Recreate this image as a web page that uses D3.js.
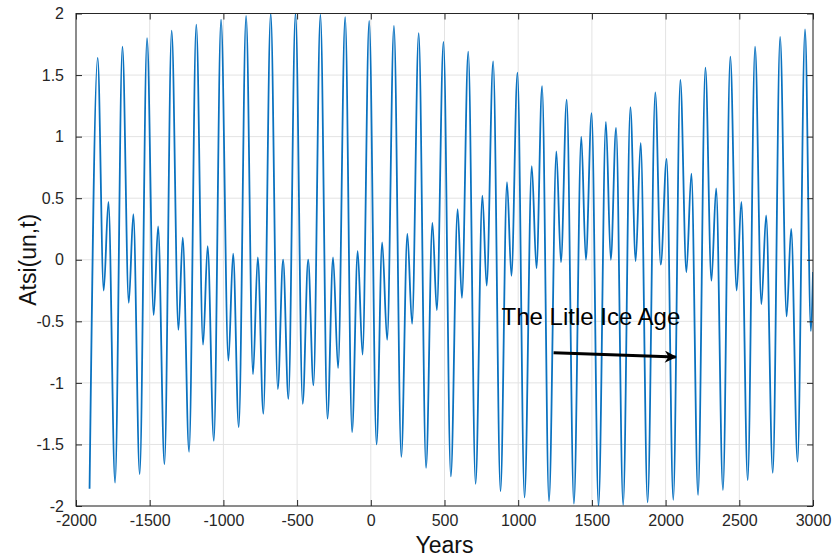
<!DOCTYPE html>
<html>
<head>
<meta charset="utf-8">
<script src="https://cdn.jsdelivr.net/npm/d3@7"></script>
<style>
body { margin: 0; background: #fff; }
svg { font-family: "Liberation Sans", Arial, Helvetica, sans-serif; }
</style>
</head>
<body>
<div class="container"></div>
<script>
const wd = 832
const ht = 560

// extrema of the curve (year, value)
const years = [-1908, -1853, -1812, -1780, -1735, -1685, -1642, -1611, -1568, -1518,
  -1473, -1443, -1400, -1351, -1305, -1276, -1233, -1184, -1138, -1107,
  -1065, -1016, -966, -934, -896, -846, -799, -767, -729, -679,
  -631, -595, -559, -511, -462, -425, -389, -342, -294, -256,
  -222, -174, -127, -89, -56, -11, 39, 77, 111, 157,
  207, 248, 280, 325, 375, 418, 448, 493, 543, 589,
  618, 661, 711, 757, 786, 830, 880, 924, 954, 995,
  1043, 1092, 1124, 1162, 1209, 1259, 1290, 1329, 1378, 1428,
  1459, 1498, 1545, 1595, 1628, 1664, 1712, 1761, 1797, 1831,
  1878, 1930, 1967, 2007, 2052, 2100, 2141, 2175, 2220, 2270,
  2311, 2343, 2389, 2439, 2482, 2514, 2557, 2607, 2650, 2682,
  2727, 2777, 2821, 2852, 2895, 2946, 2986, 3000]

const atsi = [-1.86, 1.64, -0.25, 0.47, -1.81, 1.73, -0.35, 0.37, -1.74, 1.80,
  -0.45, 0.27, -1.66, 1.86, -0.57, 0.18, -1.56, 1.91, -0.69, 0.11,
  -1.47, 1.95, -0.82, 0.05, -1.36, 1.98, -0.93, 0.02, -1.25, 2.00,
  -1.05, 0.00, -1.13, 2.00, -1.17, 0.00, -1.02, 1.99, -1.29, 0.02,
  -0.88, 1.97, -1.40, 0.07, -0.77, 1.94, -1.50, 0.14, -0.65, 1.90,
  -1.60, 0.21, -0.52, 1.84, -1.69, 0.30, -0.41, 1.77, -1.76, 0.41,
  -0.31, 1.69, -1.82, 0.52, -0.21, 1.61, -1.88, 0.63, -0.13, 1.52,
  -1.93, 0.76, -0.07, 1.41, -1.96, 0.88, -0.02, 1.30, -1.98, 1.00,
  0.00, 1.19, -2.00, 1.12, 0.00, 1.07, -1.99, 1.24, -0.01, 0.95,
  -1.97, 1.36, -0.04, 0.82, -1.95, 1.46, -0.10, 0.70, -1.91, 1.56,
  -0.17, 0.58, -1.87, 1.65, -0.25, 0.47, -1.79, 1.73, -0.36, 0.36,
  -1.73, 1.81, -0.46, 0.25, -1.64, 1.87, -0.58, -0.10]

const xTicks = [-2000, -1500, -1000, -500, 0, 500, 1000, 1500, 2000, 2500, 3000]
const yTicks = [-2, -1.5, -1, -0.5, 0, 0.5, 1, 1.5, 2]

const noteText = "The Litle Ice Age"
const notePos = [887, -0.53]
const arrowFrom = [1240, -0.755]
const arrowTo = [2068, -0.79]

const mg = {top: 13.5, right: 19, bottom: 54, left: 76}
const iw = wd - mg.left - mg.right
const ih = ht - mg.top - mg.bottom

const svgC = d3.select(".container")
  .append("svg")
  .attr("width", wd)
  .attr("height", ht)

const g = svgC.append("g").attr("transform", `translate(${mg.left},${mg.top})`)

const x = d3.scaleLinear().domain([-2000, 3000]).range([0, iw])
const y = d3.scaleLinear().domain([-2, 2]).range([ih, 0])

// grid
g.append("g").selectAll("line")
  .data(xTicks)
  .enter().append("line")
  .attr("x1", d => x(d)).attr("x2", d => x(d))
  .attr("y1", 0).attr("y2", ih)
  .style("stroke", "#e3e3e3").style("stroke-width", 1)

g.append("g").selectAll("line")
  .data(yTicks)
  .enter().append("line")
  .attr("x1", 0).attr("x2", iw)
  .attr("y1", d => y(d)).attr("y2", d => y(d))
  .style("stroke", "#e3e3e3").style("stroke-width", 1)

// the curve
svgC.append("defs").append("clipPath").attr("id", "clip")
  .append("rect").attr("width", iw).attr("height", ih)

const pts = years.map((d, i) => [d, atsi[i]])

const lineFunc = d3.line()
  .x(d => x(d[0]))
  .y(d => y(d[1]))
  .curve(d3.curveMonotoneX)

g.append("path")
  .attr("d", lineFunc(pts))
  .attr("clip-path", "url(#clip)")
  .attr("fill", "none")
  .style("stroke", "#0a72c0")
  .style("stroke-width", 1.8)

// axes, ticks inward on all four sides
const tickCol = "#262626"
const fmt = d => String(d)

function styleAxis(sel) {
  sel.select(".domain").remove()
  sel.selectAll(".tick line").style("stroke", tickCol)
  sel.selectAll(".tick text").style("fill", tickCol).style("font-size", "16px")
    .style("font-family", "Liberation Sans, Arial, sans-serif")
}

g.append("g").attr("transform", `translate(0,${ih})`)
  .call(d3.axisBottom(x).tickValues(xTicks).tickFormat(fmt).tickSizeInner(-6).tickSizeOuter(0).tickPadding(9))
  .call(styleAxis)

g.append("g")
  .call(d3.axisTop(x).tickValues(xTicks).tickFormat("").tickSizeInner(-6).tickSizeOuter(0))
  .call(styleAxis)

g.append("g")
  .call(d3.axisLeft(y).tickValues(yTicks).tickFormat(fmt).tickSizeInner(-6).tickSizeOuter(0).tickPadding(12))
  .call(styleAxis)

g.append("g").attr("transform", `translate(${iw},0)`)
  .call(d3.axisRight(y).tickValues(yTicks).tickFormat("").tickSizeInner(-6).tickSizeOuter(0))
  .call(styleAxis)

g.append("rect")
  .attr("width", iw).attr("height", ih)
  .attr("fill", "none")
  .style("stroke", tickCol).style("stroke-width", 1)

// labels
svgC.append("text")
  .attr("x", mg.left + iw / 2)
  .attr("y", 553)
  .attr("text-anchor", "middle")
  .style("font-size", "23px")
  .style("fill", "#111")
  .text("Years")

svgC.append("text")
  .attr("transform", `translate(36,${mg.top + ih / 2}) rotate(-90)`)
  .attr("text-anchor", "middle")
  .style("font-size", "23px")
  .style("fill", "#111")
  .text("Atsi(un,t)")

// annotation
svgC.append("defs").append("marker")
  .attr("id", "arrowhead")
  .attr("viewBox", "0 0 10 10")
  .attr("refX", 9).attr("refY", 5)
  .attr("markerWidth", 4.5).attr("markerHeight", 4)
  .attr("markerUnits", "strokeWidth")
  .attr("orient", "auto")
  .append("path")
  .attr("d", "M0,0 L10,5 L0,10 L3,5 Z")
  .attr("fill", "#000")

g.append("text")
  .attr("x", x(notePos[0]))
  .attr("y", y(notePos[1]))
  .style("font-size", "24px")
  .style("fill", "#000")
  .text(noteText)

g.append("line")
  .attr("x1", x(arrowFrom[0])).attr("y1", y(arrowFrom[1]))
  .attr("x2", x(arrowTo[0])).attr("y2", y(arrowTo[1]))
  .style("stroke", "#000")
  .style("stroke-width", 3)
  .attr("marker-end", "url(#arrowhead)")
</script>
</body>
</html>
